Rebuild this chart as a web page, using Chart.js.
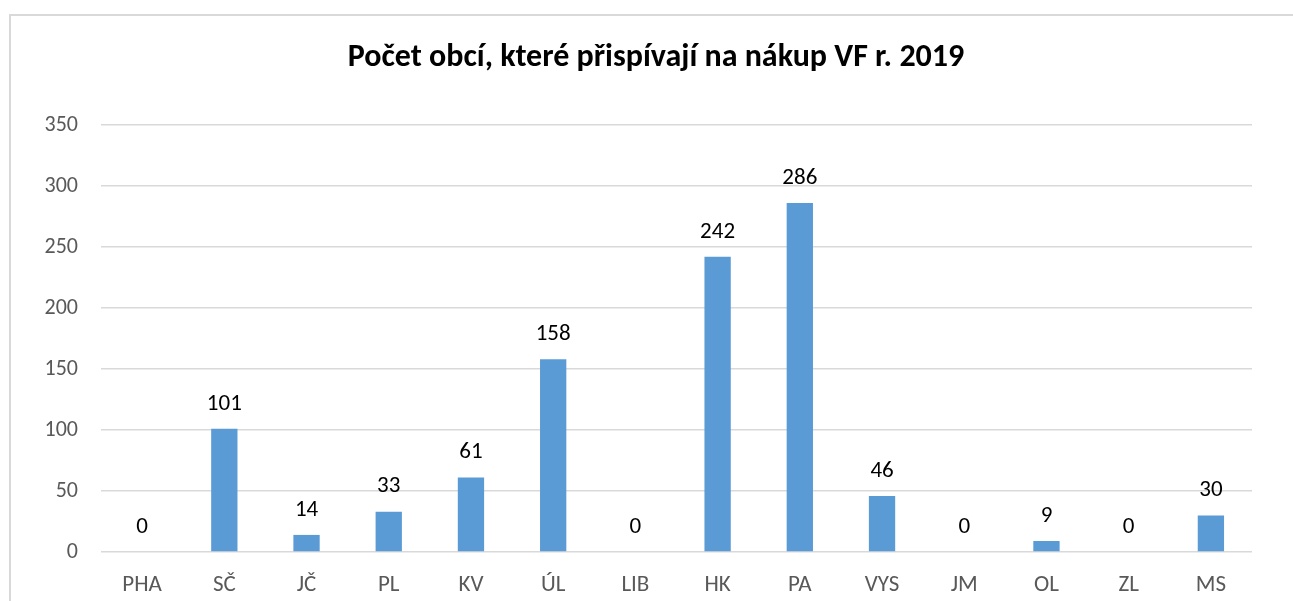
<!DOCTYPE html>
<html>
<head>
<meta charset="utf-8">
<script src="https://cdn.jsdelivr.net/npm/chart.js@4"></script>
<style>
  html, body { margin: 0; padding: 0; background: #fff; }
  #wrap { position: relative; width: 1293px; height: 601px; }
  #frame { position: absolute; left: 9px; top: 14px; right: 0; bottom: 0;
           border-left: 2px solid #d9d9d9; border-top: 2px solid #d9d9d9; }
  canvas { position: absolute; left: 0; top: 0; }
</style>
</head>
<body>
<div id="wrap">
  <div id="frame"></div>
  <canvas id="graf" width="1293" height="601"></canvas>
</div>
<script>
// --- data ---
const kraje = ['PHA', 'SČ', 'JČ', 'PL', 'KV', 'ÚL', 'LIB', 'HK', 'PA', 'VYS', 'JM', 'OL', 'ZL', 'MS'];
const pocetObci = [0, 101, 14, 33, 61, 158, 0, 242, 286, 46, 0, 9, 0, 30];
const yTicks = [0, 50, 100, 150, 200, 250, 300, 350];
const nadpis = 'Počet obcí, které přispívají na nákup VF r. 2019';

const font = "Carlito, Lato, 'Liberation Sans', sans-serif";

// popisky hodnot nad sloupci + nadpis (vycentrovany na ramecek, ne na plochu grafu)
const hodnotyPlugin = {
  id: 'hodnoty',
  afterDatasetsDraw(chart) {
    const ctx = chart.ctx;
    const meta = chart.getDatasetMeta(0);
    ctx.save();
    ctx.font = '23px ' + font;
    ctx.fillStyle = '#000';
    ctx.textAlign = 'center';
    ctx.textBaseline = 'middle';
    meta.data.forEach((bar, i) => {
      ctx.fillText(String(pocetObci[i]), bar.x, bar.y - 25);
    });
    ctx.font = 'bold 32px ' + font;
    ctx.fillText(nadpis, 656, 58);
    ctx.restore();
  }
};

document.addEventListener('DOMContentLoaded', () => {
  const ctx = document.getElementById('graf').getContext('2d');
  new Chart(ctx, {
    type: 'bar',
    data: {
      labels: kraje,
      datasets: [{
        data: pocetObci,
        backgroundColor: '#5b9bd5',
        borderWidth: 0,
        barPercentage: 1,
        categoryPercentage: 0.32
      }]
    },
    options: {
      responsive: false,
      animation: false,
      layout: { padding: { top: 125, right: 41, bottom: 2, left: 0 } },
      scales: {
        x: {
          afterFit: (axis) => { axis.height = 47; },
          grid: { display: false, drawTicks: false },
          border: { display: false },
          ticks: { color: '#595959', font: { family: font, size: 23 }, padding: 19, maxRotation: 0 }
        },
        y: {
          min: 0,
          max: 350,
          afterBuildTicks: (axis) => { axis.ticks = yTicks.map(v => ({ value: v })); },
          afterFit: (axis) => { axis.width = 101; },
          grid: { color: '#d9d9d9', lineWidth: 1.5, drawTicks: false },
          border: { display: false },
          ticks: { color: '#595959', font: { family: font, size: 22 }, padding: 23 }
        }
      },
      plugins: {
        legend: { display: false },
        tooltip: { enabled: false },
        title: { display: false }
      }
    },
    plugins: [hodnotyPlugin]
  });
});
</script>
</body>
</html>
